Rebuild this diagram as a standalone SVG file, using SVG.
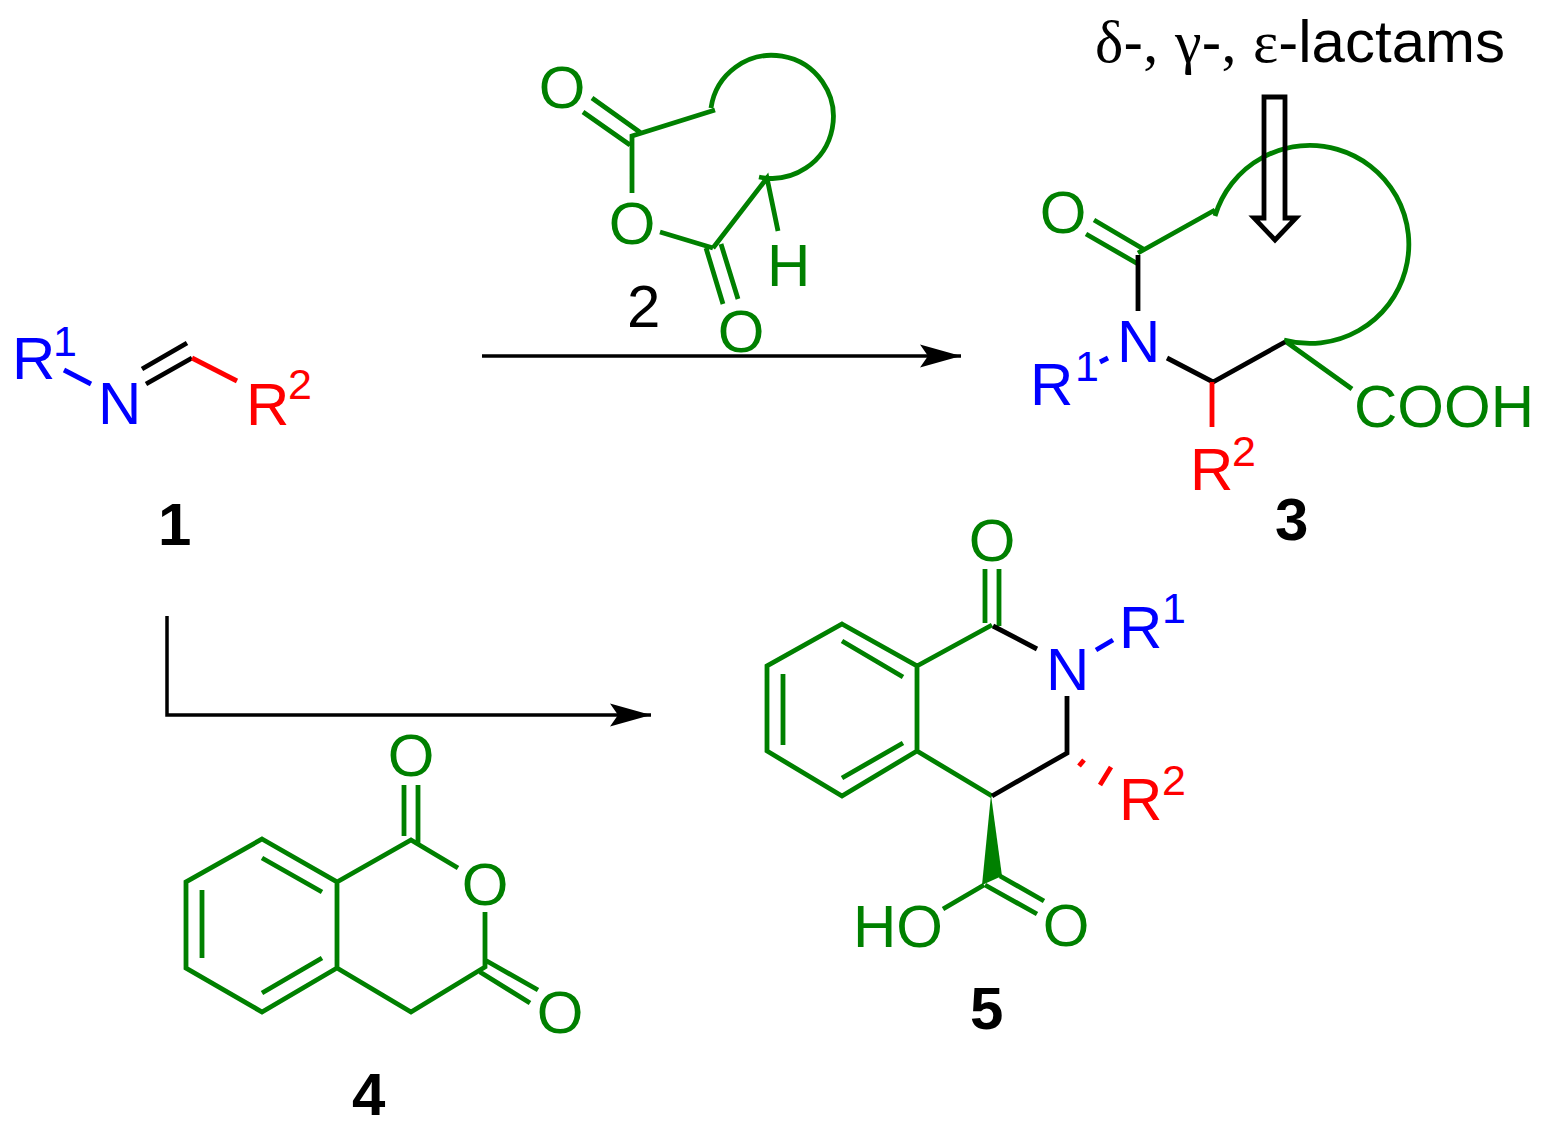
<svg xmlns="http://www.w3.org/2000/svg" width="1542" height="1126" viewBox="0 0 1542 1126">
<style>
text{font-family:"Liberation Sans",Arial,sans-serif;font-size:60px}
.sup{font-size:43px}
.num{font-weight:bold}
.o{text-anchor:middle}
.g{fill:#008000}.b{fill:#0000ff}.r{fill:#ff0000}.k{fill:#000}
.sg,.sb,.sr,.sk{fill:none;stroke-width:4.800}
.sg{stroke:#008000}.sb{stroke:#0000ff}.sr{stroke:#ff0000}.sk{stroke:#000}
</style>
<defs>
<marker id="head" markerUnits="userSpaceOnUse" markerWidth="42" markerHeight="26" refX="41" refY="13" orient="auto">
<path d="M41 13L0 1.500L8 13L0 24.500Z" fill="#000"/>
</marker>
</defs>
<g id="connectors">
<path class="sk" d="M482 356H961" marker-end="url(#head)" style="stroke-width:3.500"/>
<path class="sk" d="M167 616V715H651" marker-end="url(#head)" style="stroke-width:3.500"/>
</g>
<g id="compound-1">
<text class="b" x="12" y="379">R</text><text class="b sup" x="53" y="356">1</text>
<path class="sb" d="M64 370L91 384"/>
<text class="b" x="98" y="424">N</text>
<path class="sk" d="M142 369L187 343M146 384L192 358"/>
<path class="sr" d="M192 358L237 381"/>
<text class="r" x="246" y="425">R</text><text class="r sup" x="288" y="399">2</text>
<text class="k num" x="158" y="545">1</text>
</g>
<g id="compound-2">
<text class="g o" x="562" y="108">O</text>
<path class="sg" d="M592 98L641 133M583 112L630 145M632 193V136L715 110M711 108A61.500 61.500 0 1 1 759 177M660 232L713 248M706 248L723 304M721 244L738 299M713 248L767 178L778 231"/>
<text class="g o" x="632" y="244">O</text>
<text class="g o" x="741" y="352">O</text>
<text class="g" x="767" y="286">H</text>
<text class="k" x="627" y="327">2</text>
</g>
<g id="compound-3">
<text class="k" x="1095" y="62"><tspan font-family="Liberation Serif">δ</tspan>-<tspan font-family="Liberation Serif">,</tspan> <tspan font-family="Liberation Serif">γ</tspan>-<tspan font-family="Liberation Serif">,</tspan> <tspan font-family="Liberation Serif">ε</tspan>-lactams</text>
<path class="sg" d="M1094 220L1145 250M1086 234L1138 264M1138 253L1215 210M1215 216A99 99 0 1 1 1284 340M1285 341L1352 389"/>
<path class="sk" d="M1264 97H1285V218H1296L1275 240L1254 218H1264ZM1138 255V311M1167 358L1213 382L1285 342"/>
<path class="sr" d="M1212 382V427"/>
<path class="sb" d="M1100 362L1108 358"/>
<text class="g o" x="1063" y="233">O</text>
<text class="b" x="1117" y="362">N</text>
<text class="b" x="1030" y="405">R</text><text class="b sup" x="1075" y="381">1</text>
<text class="r" x="1190" y="490">R</text><text class="r sup" x="1232" y="466">2</text>
<text class="g" x="1354" y="427">COOH</text>
<text class="k num" x="1275" y="540">3</text>
</g>
<g id="compound-4">
<path class="sg" d="M262 839L337 882V968L262 1012L186 968V882ZM262 858L322 892M202 890V958M262 993L322 958M337 882L411 840L458 868M404 785V836M418 785V845M485 912V967L411 1012L337 968M485 960L538 990M480 972L530 1003"/>
<text class="g o" x="411" y="776">O</text>
<text class="g o" x="485" y="905">O</text>
<text class="g o" x="560" y="1033">O</text>
<text class="k num" x="352" y="1115">4</text>
</g>
<g id="compound-5">
<path class="sg" d="M842 624L917 666V751L842 796L767 751V666ZM842 641L903 677M783 674V745M842 778L903 743M917 666L992 625M985 569V623M999 569V626M917 751L992 796M984 885L943 909M985 885L1037 914M1000 876L1044 901"/>
<path d="M991 795L982 885L1002 876Z" fill="#008000"/>
<path class="sk" d="M993 626L1037 649M1067 696V753L992 796"/>
<path class="sb" d="M1096 650L1113 640"/>
<path class="sr" d="M1079 766L1084 760M1100 785L1111 767"/>
<text class="g o" x="992" y="561">O</text>
<text class="b" x="1046" y="690">N</text>
<text class="b" x="1119" y="648">R</text><text class="b sup" x="1162" y="623">1</text>
<text class="r" x="1119" y="820">R</text><text class="r sup" x="1162" y="795">2</text>
<text class="g" x="853" y="947">HO</text>
<text class="g o" x="1066" y="946">O</text>
<text class="k num" x="970" y="1029">5</text>
</g>
</svg>
